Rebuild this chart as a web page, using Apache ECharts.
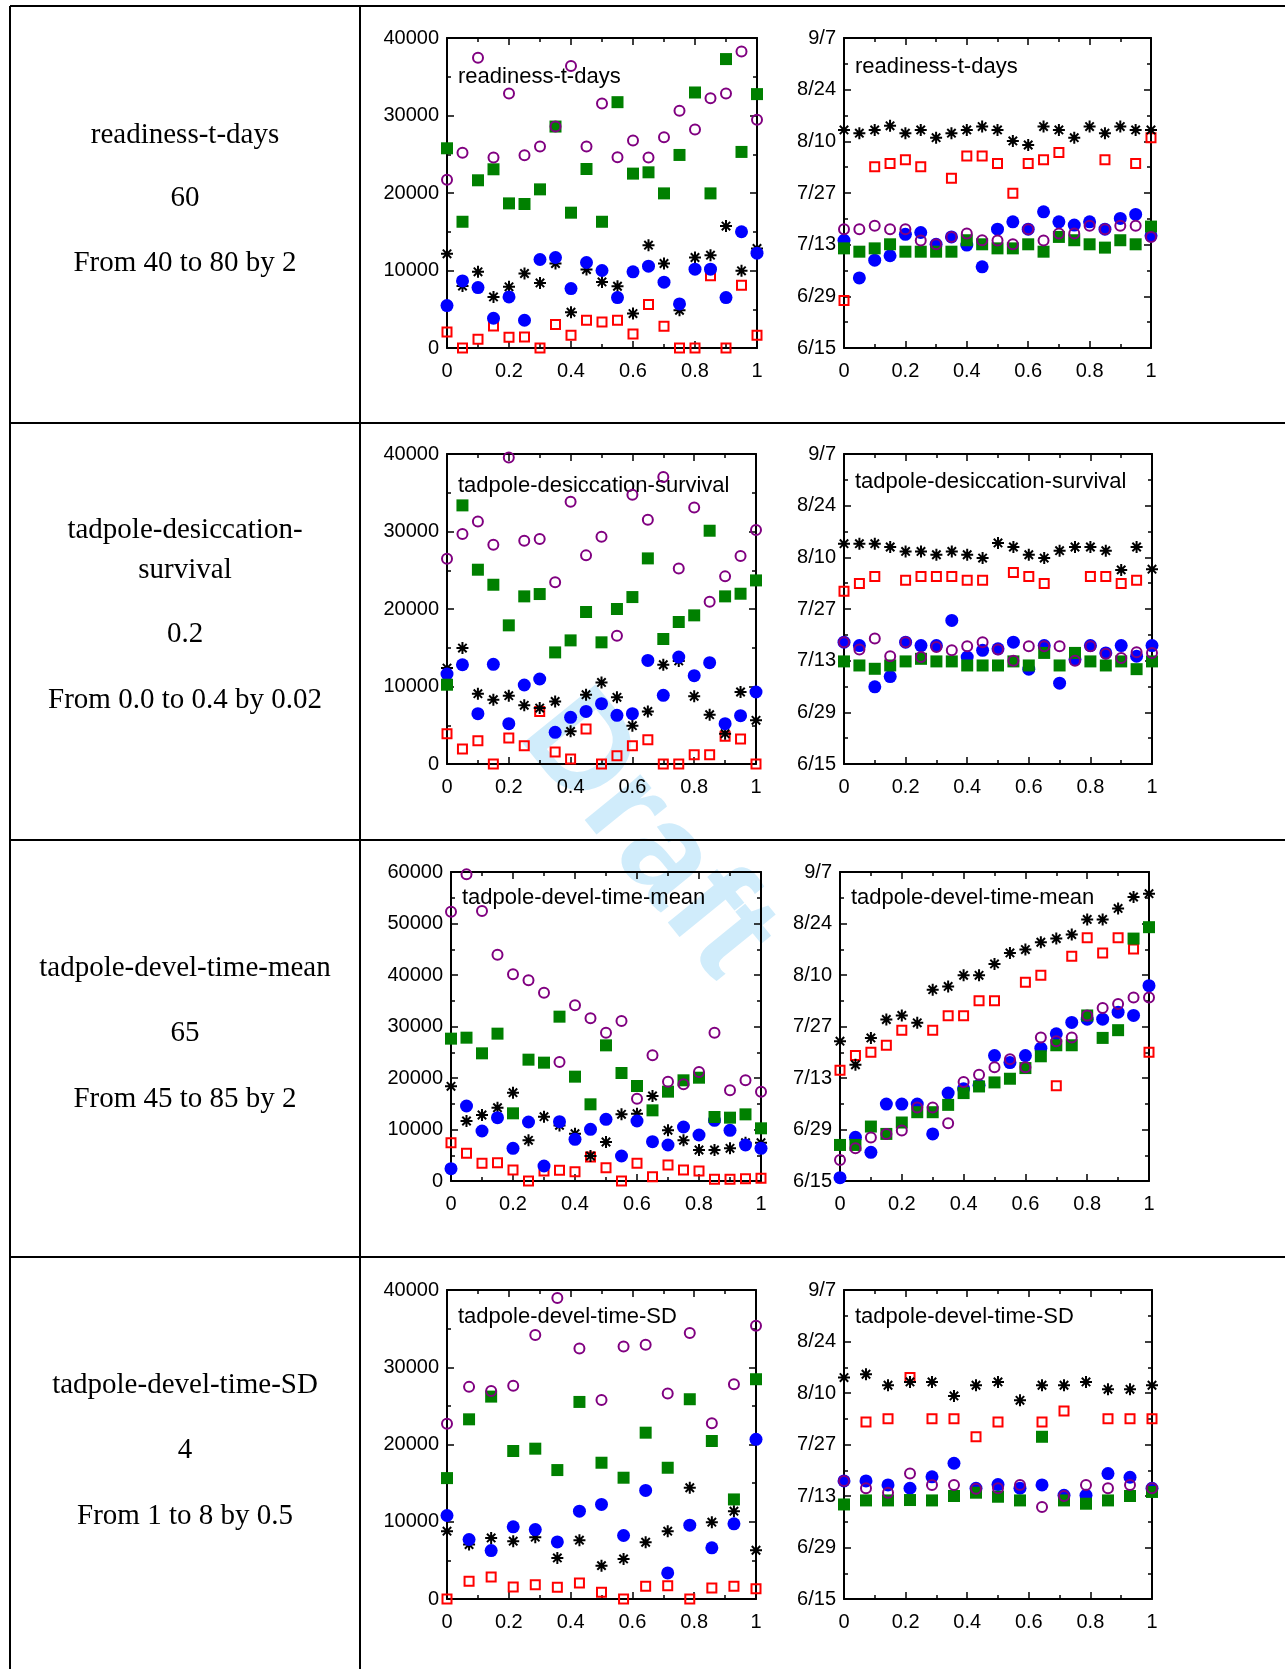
<!DOCTYPE html>
<html><head><meta charset="utf-8">
<script src="https://cdn.jsdelivr.net/npm/echarts@6/dist/echarts.min.js"></script>
<style>html,body{margin:0;padding:0;background:#fff}#c{width:1285px;height:1669px}</style>
</head><body><div id="c"></div>
<script>
// ---------- x positions (scaled parameter value, 0..1) ----------
const X21 = [0,0.05,0.1,0.15,0.2,0.25,0.3,0.35,0.4,0.45,0.5,0.55,0.6,0.65,0.7,0.75,0.8,0.85,0.9,0.95,1];
const X15 = [0,0.0714,0.1429,0.2143,0.2857,0.3571,0.4286,0.5,0.5714,0.6429,0.7143,0.7857,0.8571,0.9286,1];

// ---------- tick labels ----------
const xTickLabels = ['0','0.2','0.4','0.6','0.8','1'];
const dateTickLabels = ['6/15','6/29','7/13','7/27','8/10','8/24','9/7']; // every 14 days from 6/15

// ---------- row texts ----------
const rowTexts1 = ['readiness-t-days','60','From 40 to 80 by 2'];
const rowTexts2 = ['tadpole-desiccation-','survival','0.2','From 0.0 to 0.4 by 0.02'];
const rowTexts3 = ['tadpole-devel-time-mean','65','From 45 to 85 by 2'];
const rowTexts4 = ['tadpole-devel-time-SD','4','From 1 to 8 by 0.5'];

// ---------- Row 1: readiness-t-days (counts) ----------
const rdCntPurple = [21700,25200,37450,24570,32840,24870,25990,28575,36380,25990,31550,24610,26765,24570,27200,30600,28190,32240,32840,38270,29440];
const rdCntGreen  = [25770,16290,21640,23060,18660,18580,20470,28575,17460,23100,16290,31720,22500,22670,19950,24910,32970,19950,37280,25300,32760];
const rdCntBlue   = [5470,8660,7800,3840,6590,3580,11420,11680,7670,11030,10000,6510,9830,10560,8490,5690,10170,10170,6510,15000,12240];
const rdCntBlack  = [12150,8000,9830,6590,7890,9610,8400,10900,4610,10130,8530,7970,4440,13270,10900,4870,11680,11980,15730,9960,12840];
const rdCntRed    = [2070,0,1120,2840,1380,1420,0,3020,1640,3580,3360,3580,1810,5600,2800,0,0,9310,0,8100,1640];
// dates, as days after 6/15
const rdDayPurple = [32.2,32.2,33.1,32.2,32.2,29.1,28.1,30.1,31.0,29.2,29.1,28.1,32.2,29.1,31.0,31.0,33.1,32.2,33.1,33.1,30.1];
const rdDayGreen  = [27.0,26.1,27.0,28.1,26.1,26.1,26.1,26.1,29.2,28.1,27.0,27.0,28.1,26.1,30.1,29.2,28.1,27.2,29.2,28.1,32.9];
const rdDayBlue   = [29.2,19.0,23.8,25.0,30.8,31.3,28.1,30.1,27.9,22.0,32.2,34.2,32.2,36.9,34.2,33.3,34.2,32.2,35.1,36.2,30.4];
const rdDayBlack  = [59.1,58.2,59.1,60.2,58.2,59.1,57.0,58.2,59.1,60.0,59.1,56.1,55.0,60.0,59.1,57.0,60.0,58.2,60.0,59.1,59.1];
const rdDayRed    = [12.9,null,49.1,50.0,51.0,49.1,null,46.0,52.0,52.0,50.0,41.9,50.0,51.0,53.0,null,null,51.0,null,50.0,57.0];

// ---------- Row 2: tadpole-desiccation-survival ----------
const dsCntPurple = [26490,29670,31300,28290,39560,28810,29030,23440,33840,26920,29330,16560,34740,31520,37020,25240,33110,20940,24210,26830,30190];
const dsCntGreen  = [10230,33370,25070,23130,17890,21630,21930,14400,15950,19610,15700,20000,21540,26530,16130,18320,19180,30100,21630,21970,23690];
const dsCntBlue   = [11610,12810,6490,12860,5200,10190,10970,4090,6020,6790,7780,6280,6490,13370,8860,13800,11400,13070,5200,6240,9290];
const dsCntBlack  = [12380,14960,9070,8300,8820,7570,7220,8080,4210,8940,10530,8600,4950,6790,12810,13300,8730,6360,3910,9290,5630];
const dsCntRed    = [3910,1940,3010,0,3350,2370,6790,1550,650,4510,0,1080,2370,3140,0,0,1200,1200,3570,3230,0];
const dsDayPurple = [33.0,31.0,34.0,29.2,33.0,29.0,31.7,30.8,31.9,33.0,31.0,28.0,31.9,31.9,31.9,28.0,31.9,29.9,28.7,30.3,30.1];
const dsDayGreen  = [27.8,26.7,25.8,26.7,27.8,28.5,27.8,27.8,26.7,26.7,26.7,27.8,26.7,30.1,26.7,30.1,27.8,26.7,27.8,25.7,27.8];
const dsDayBlue   = [33.0,32.1,20.9,23.7,33.0,32.1,32.1,38.9,29.0,30.8,31.2,33.0,25.7,32.1,21.9,28.3,32.1,30.1,32.1,29.2,32.1];
const dsDayBlack  = [59.7,59.7,59.7,58.8,57.6,57.6,56.7,57.6,56.7,55.8,59.9,58.8,56.7,55.8,57.8,58.8,58.8,57.8,52.6,58.8,52.8];
const dsDayRed    = [46.8,48.9,50.8,null,49.8,50.8,50.8,50.8,49.8,49.8,null,51.9,50.8,48.9,null,null,50.8,50.8,48.9,49.8,null];

// ---------- Row 3: tadpole-devel-time-mean ----------
const dmCntPurple = [52290,59540,52420,43940,40130,38960,36570,23110,34110,31580,28800,31070,15990,24400,19290,18770,21160,28800,17600,19550,17350];
const dmCntGreen  = [27640,27830,24790,28610,13140,23560,22980,31910,20260,14890,26340,20970,18450,13720,17350,19550,20060,12430,12300,12940,10230];
const dmCntBlue   = [2390,14560,9710,12300,6340,11460,2910,11520,8090,10030,11970,4850,11650,7640,6990,10480,8930,11780,9840,6990,6340];
const dmCntBlack  = [18380,11650,12810,14240,17150,7900,12490,10800,9190,4850,7570,12940,13070,16500,9840,7900,6020,6020,6340,7440,7440];
const dmCntRed    = [7440,5370,3430,3560,2140,0,1940,2070,1810,4660,2590,0,3430,840,3110,2140,1940,320,320,450,520];
const dmDayPurple = [5.7,8.9,11.8,12.8,13.7,20.0,20.0,15.7,26.9,28.9,30.9,33.1,30.9,39.0,38.0,39.0,45.0,47.0,48.1,49.9,49.9];
const dmDayGreen  = [9.8,9.8,14.8,12.8,15.9,18.7,18.7,20.7,23.9,25.7,26.8,27.8,30.7,33.9,36.9,36.9,45.0,38.9,41.0,65.9,69.0];
const dmDayBlue   = [0.9,11.9,7.8,20.9,20.9,20.9,12.8,23.9,25.1,26.0,34.1,32.2,34.1,36.1,40.0,43.1,44.0,44.0,45.9,45.0,53.1];
const dmDayBlack  = [38.0,31.6,38.9,43.9,45.0,43.0,52.0,52.9,55.9,55.9,59.0,62.0,62.9,64.9,65.9,67.0,71.1,71.1,74.1,77.2,78.1];
const dmDayRed    = [30.1,34.1,35.0,36.9,41.0,null,41.0,44.9,44.9,49.0,49.0,null,54.0,55.9,25.9,61.1,66.1,62.0,66.1,63.1,35.0];

// ---------- Row 4: tadpole-devel-time-SD ----------
const sdCntPurple = [22700,27460,26940,27590,34160,38960,32430,25770,32690,32910,26590,34420,22740,27800,35370];
const sdCntGreen  = [15650,23260,26200,19160,19460,16690,25510,17640,15700,21530,16990,25860,20450,12890,28450];
const sdCntBlue   = [10810,7700,6270,9340,8990,7390,11370,12240,8220,14050,3370,9560,6620,9730,20670];
const sdCntBlack  = [8780,7050,7910,7480,8000,5320,7610,4320,5190,7350,8780,14400,9950,11370,6310];
const sdCntRed    = [0,2290,2850,1560,1860,1510,2080,860,0,1640,1730,0,1430,1640,1340];
const sdDayPurple = [32.1,30.1,28.9,34.1,31.0,31.0,30.0,30.1,31.0,25.0,28.0,31.0,30.1,31.0,30.1];
const sdDayGreen  = [25.7,26.8,26.8,26.9,26.8,28.0,28.9,27.8,26.8,44.1,26.8,25.9,26.8,28.0,29.1];
const sdDayBlue   = [32.1,32.1,31.0,30.1,33.2,36.9,30.1,31.1,30.1,31.0,28.2,28.2,34.1,33.1,30.1];
const sdDayBlack  = [60.2,61.1,58.1,59.0,59.0,55.2,58.1,59.0,54.0,58.1,58.1,59.0,57.0,57.0,58.1];
const sdDayRed    = [null,48.1,49.0,60.2,49.0,49.0,44.1,48.1,null,48.1,51.1,null,49.0,49.0,49.0];

// ---------- build ----------
const ASTER = 'path://M10,0L10,20M0,10L20,10M3,3L17,17M3,17L17,3';
const STYLE = {
  red:    {symbol:'rect',   symbolSize:9,  itemStyle:{opacity:1, color:'rgba(0,0,0,0)', borderColor:'#ff0000', borderWidth:2}},
  black:  {symbol:ASTER,    symbolSize:12, itemStyle:{opacity:1, color:'rgba(0,0,0,0)', borderColor:'#000000', borderWidth:2}},
  blue:   {symbol:'circle', symbolSize:13, itemStyle:{opacity:1, color:'#0000ff'}},
  green:  {symbol:'rect',   symbolSize:12, itemStyle:{opacity:1, color:'#008000'}},
  purple: {symbol:'circle', symbolSize:10, itemStyle:{opacity:1, color:'rgba(0,0,0,0)', borderColor:'#800080', borderWidth:2}}
};
const ORDER = ['red','black','blue','green','purple'];

const panels = [
  {g:[447,38,310,310],  x:X21, max:40000, date:false, title:'readiness-t-days', ty:77,
   d:{red:rdCntRed,black:rdCntBlack,blue:rdCntBlue,green:rdCntGreen,purple:rdCntPurple}},
  {g:[844,38,307,310],  x:X21, date:true, title:'readiness-t-days', ty:67,
   d:{red:rdDayRed,black:rdDayBlack,blue:rdDayBlue,green:rdDayGreen,purple:rdDayPurple}},
  {g:[447,454,309,310], x:X21, max:40000, date:false, title:'tadpole-desiccation-survival', ty:486,
   d:{red:dsCntRed,black:dsCntBlack,blue:dsCntBlue,green:dsCntGreen,purple:dsCntPurple}},
  {g:[844,454,308,310], x:X21, date:true, title:'tadpole-desiccation-survival', ty:482,
   d:{red:dsDayRed,black:dsDayBlack,blue:dsDayBlue,green:dsDayGreen,purple:dsDayPurple}},
  {g:[451,872,310,309], x:X21, max:60000, date:false, title:'tadpole-devel-time-mean', ty:898,
   d:{red:dmCntRed,black:dmCntBlack,blue:dmCntBlue,green:dmCntGreen,purple:dmCntPurple}},
  {g:[840,872,309,309], x:X21, date:true, title:'tadpole-devel-time-mean', ty:898,
   d:{red:dmDayRed,black:dmDayBlack,blue:dmDayBlue,green:dmDayGreen,purple:dmDayPurple}},
  {g:[447,1290,309,309], x:X15, max:40000, date:false, title:'tadpole-devel-time-SD', ty:1317,
   d:{red:sdCntRed,black:sdCntBlack,blue:sdCntBlue,green:sdCntGreen,purple:sdCntPurple}},
  {g:[844,1290,308,309], x:X15, date:true, title:'tadpole-devel-time-SD', ty:1317,
   d:{red:sdDayRed,black:sdDayBlack,blue:sdDayBlue,green:sdDayGreen,purple:sdDayPurple}}
];

const FONT = 'Liberation Sans, Arial, sans-serif';
const line = {show:true, onZero:false, lineStyle:{color:'#000', width:2}};
const tick = {show:true, inside:true, length:7, lineStyle:{color:'#000', width:1.5}};
const mtick = {show:true, splitNumber:2, length:4, lineStyle:{color:'#000', width:1.5}};
const lab = {fontSize:20, fontFamily:FONT, color:'#000'};

const grid = [], xAxis = [], yAxis = [], series = [], graphic = [];

panels.forEach((p, i) => {
  grid.push({left:p.g[0], top:p.g[1], width:p.g[2], height:p.g[3], containLabel:false});
  const xb = {type:'value', gridIndex:i, min:0, max:1, interval:0.2, axisLine:line, axisTick:tick, minorTick:mtick,
              splitLine:{show:false}, minorSplitLine:{show:false}};
  xAxis.push(Object.assign({}, xb, {position:'bottom',
    axisLabel:Object.assign({}, lab, {margin:13, formatter:v => xTickLabels[Math.round(v/0.2)]})}));
  xAxis.push(Object.assign({}, xb, {position:'top', axisLabel:{show:false}}));
  const ymax = p.date ? 84 : p.max;
  const yint = p.date ? 14 : 10000;
  const yb = {type:'value', gridIndex:i, min:0, max:ymax, interval:yint, axisLine:line, axisTick:tick, minorTick:mtick,
              splitLine:{show:false}, minorSplitLine:{show:false}};
  yAxis.push(Object.assign({}, yb, {position:'left',
    axisLabel:Object.assign({}, lab, {margin:8, formatter: p.date ? (v => dateTickLabels[Math.round(v/14)]) : (v => String(v))})}));
  yAxis.push(Object.assign({}, yb, {position:'right', axisLabel:{show:false}}));
  ORDER.forEach(k => {
    const ys = p.d[k];
    const data = [];
    p.x.forEach((xv, j) => { if (ys[j] !== null && ys[j] !== undefined) data.push([xv, ys[j]]); });
    series.push(Object.assign({type:'scatter', xAxisIndex:2*i, yAxisIndex:2*i, data:data, clip:false, silent:true,
      emphasis:{disabled:true}}, STYLE[k]));
  });
  graphic.push({type:'text', x:p.g[0] + 11, y:p.ty, silent:true,
    style:{text:p.title, fontSize:22, fontFamily:FONT, fill:'#000', align:'left', verticalAlign:'middle'}});
});

// table lines
[6, 423, 840, 1257].forEach(y => graphic.push({type:'line', silent:true,
  shape:{x1:10, y1:y, x2:1285, y2:y}, style:{stroke:'#000', lineWidth:2}}));
[10, 360].forEach(x => graphic.push({type:'line', silent:true,
  shape:{x1:x, y1:6, x2:x, y2:1669}, style:{stroke:'#000', lineWidth:2}}));

// row texts
const rowTextSets = [
  [rowTexts1, [135,198,263]],
  [rowTexts2, [530,570,634,700]],
  [rowTexts3, [968,1033,1099]],
  [rowTexts4, [1385,1450,1516]]
];
rowTextSets.forEach(([texts, ys]) => texts.forEach((t, k) => graphic.push({type:'text', x:185, y:ys[k], silent:true,
  style:{text:t, fontSize:29, fontFamily:'Liberation Serif, Times New Roman, serif', fill:'#000', align:'center', verticalAlign:'middle'}})));

// watermark
graphic.push({type:'text', x:646, y:836, rotation:-0.89, z:-100, silent:true,
  style:{text:'Draft', fontSize:136, fontWeight:'bold', fontFamily:FONT, fill:'#d0ecfb', align:'center', verticalAlign:'middle'}});

const chart = echarts.init(document.getElementById('c'), null, {renderer:'canvas', width:1285, height:1669});
chart.setOption({animation:false, backgroundColor:'#fff', grid, xAxis, yAxis, series, graphic, tooltip:{show:false}});
</script>
</body></html>
